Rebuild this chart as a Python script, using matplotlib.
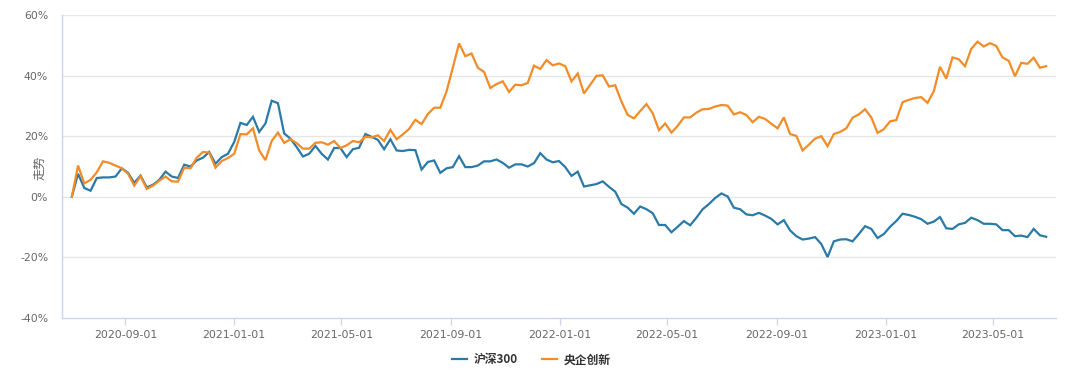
import matplotlib
matplotlib.use("Agg")
import matplotlib.pyplot as plt
import numpy as np
import pandas as pd

plt.rcParams['font.family'] = ['Noto Sans CJK SC', 'DejaVu Sans']

start_date = "2020-07-03"
n_weeks = 157

hs300 = [
    0, 7.6, 2.9, 2.0, 6.2, 6.4, 6.4, 6.7, 9.4, 7.9,
    4.6, 7.0, 3.1, 4.0, 5.6, 8.3, 6.7, 6.2, 10.6, 10.0,
    12.0, 12.9, 14.8, 10.9, 13.1, 14.2, 18.1, 24.4, 23.7, 26.4,
    21.4, 24.2, 31.7, 30.9, 20.9, 19.2, 16.4, 13.3, 14.2, 16.8,
    14.2, 12.3, 16.1, 16.1, 13.1, 15.7, 16.2, 20.7, 19.8, 18.8,
    15.7, 19.0, 15.3, 15.1, 15.5, 15.4, 9.0, 11.5, 12.0, 7.9,
    9.4, 9.8, 13.4, 9.8, 9.8, 10.3, 11.7, 11.7, 12.3, 11.2,
    9.6, 10.7, 10.7, 10.0, 11.1, 14.4, 12.3, 11.4, 11.8, 9.8,
    6.9, 8.3, 3.4, 3.8, 4.2, 5.1, 3.3, 1.7, -2.4, -3.6,
    -5.6, -3.2, -4.1, -5.4, -9.3, -9.3, -11.7, -9.9, -8.0, -9.4,
    -6.9, -4.1, -2.4, -0.4, 1.1, 0.1, -3.6, -4.1, -5.8, -6.1,
    -5.3, -6.2, -7.3, -9.1, -7.7, -11.1, -13.0, -14.1, -13.8, -13.3,
    -15.6, -19.9, -14.7, -14.1, -14.0, -14.7, -12.3, -9.7, -10.6, -13.6,
    -12.3, -9.9, -8.0, -5.6, -6.0, -6.6, -7.4, -8.9, -8.2, -6.7,
    -10.4, -10.6, -9.1, -8.6, -6.9, -7.7, -8.9, -8.9, -9.1, -11.0,
    -11.0, -13.0, -12.8, -13.3, -10.6, -12.7, -13.2,
]

yangqi = [
    0, 10.3, 4.4, 5.6, 8.1, 11.7, 11.2, 10.3, 9.4, 7.6,
    3.7, 6.8, 2.6, 3.7, 5.3, 6.7, 5.1, 5.0, 9.6, 9.4,
    12.9, 14.8, 14.6, 9.6, 11.8, 12.8, 14.2, 20.7, 20.6, 22.6,
    15.3, 12.1, 18.4, 21.2, 17.8, 19.0, 17.7, 15.9, 15.9, 17.8,
    18.0, 17.2, 18.4, 16.1, 17.0, 18.4, 18.0, 19.8, 19.6, 20.3,
    18.4, 22.1, 19.0, 20.6, 22.4, 25.4, 24.0, 27.3, 29.4, 29.4,
    34.8, 42.6, 50.6, 46.4, 47.3, 42.6, 41.2, 35.9, 37.2, 38.1,
    34.6, 37.0, 36.8, 37.6, 43.3, 42.2, 45.1, 43.4, 44.0, 43.1,
    38.1, 40.7, 34.1, 37.0, 39.9, 40.1, 36.4, 36.8, 31.4, 27.0,
    25.9, 28.3, 30.6, 27.6, 22.0, 24.2, 21.2, 23.4, 26.2, 26.2,
    27.8, 28.9, 29.0, 29.8, 30.3, 30.1, 27.2, 27.9, 27.0, 24.6,
    26.4, 25.7, 24.1, 22.6, 26.2, 20.7, 20.1, 15.3, 17.2, 19.2,
    20.0, 16.7, 20.7, 21.4, 22.6, 26.1, 27.2, 28.9, 26.2, 21.1,
    22.3, 24.9, 25.3, 31.2, 32.0, 32.6, 32.9, 31.0, 34.8, 42.9,
    39.0, 46.0, 45.4, 43.1, 48.8, 51.2, 49.6, 50.7, 49.8, 46.0,
    44.9, 39.8, 44.2, 43.9, 45.9, 42.6, 43.1,
]

tick_dates = ["2020-09-01", "2021-01-01", "2021-05-01", "2021-09-01", "2022-01-01",
              "2022-05-01", "2022-09-01", "2023-01-01", "2023-05-01"]
y_ticks = [-40, -20, 0, 20, 40, 60]
series_names = ["沪深300", "央企创新"]
colors = ["#2a7aa8", "#f28c28"]

dates = pd.date_range(start_date, periods=n_weeks, freq="7D")

W, H = 1080, 378
fig = plt.figure(figsize=(W / 100, H / 100), dpi=100)
ax = fig.add_axes([62 / W, 1 - 318 / H, (1056 - 62) / W, (318 - 15) / H])

l1, = ax.plot(dates, hs300, color=colors[0], lw=1.6, solid_joinstyle="miter")
l2, = ax.plot(dates, yangqi, color=colors[1], lw=1.6, solid_joinstyle="miter")

pad = pd.Timedelta(days=11)
ax.set_xlim(dates[0] - pad, dates[-1] + pad)
ax.set_ylim(-40, 60)
ax.set_yticks(y_ticks)
ax.set_yticklabels([f"{v}%" for v in y_ticks])
ax.set_xticks(pd.to_datetime(tick_dates))
ax.set_xticklabels(tick_dates)

for v in y_ticks[1:]:
    ax.axhline(v, color="#e6e6e6", lw=0.9, zorder=0)

for s in ["top", "right"]:
    ax.spines[s].set_visible(False)
for s in ["left", "bottom"]:
    ax.spines[s].set_color("#ccd6eb")
    ax.spines[s].set_linewidth(1.0)

ax.tick_params(axis="y", length=0, pad=10, labelsize=7.8, labelcolor="#666666")
ax.tick_params(axis="x", length=5, width=0.9, color="#ccd6eb", pad=4,
               labelsize=7.8, labelcolor="#666666")
for lab in ax.get_xticklabels() + ax.get_yticklabels():
    lab.set_family("DejaVu Sans")

fig.text(40 / W, 1 - 168 / H, "走势", rotation=90, ha="center", va="center",
         fontsize=8.8, color="#666666")

leg = fig.legend([l1, l2], series_names, loc="center", bbox_to_anchor=(0.492, 1 - 360 / H),
                 ncol=2, frameon=False, handlelength=1.3, handletextpad=0.55,
                 columnspacing=2.0, prop={"size": 8.5, "weight": "bold"})
for t in leg.get_texts():
    t.set_color("#333333")

fig.savefig("out.png", dpi=100)
